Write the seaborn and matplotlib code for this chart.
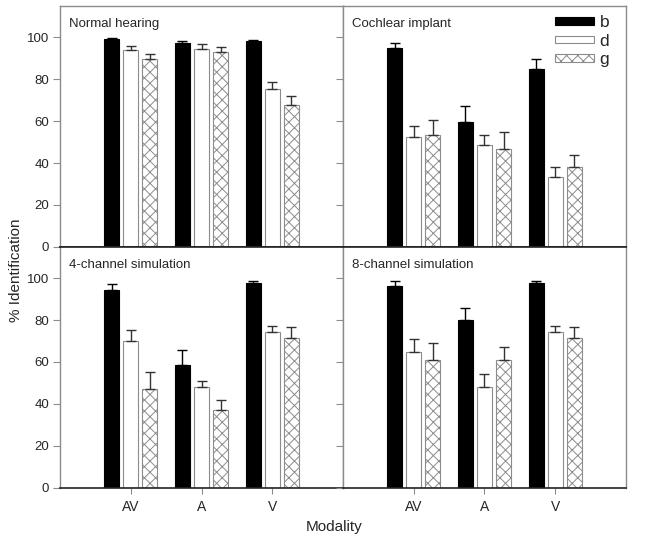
import pandas as pd
import matplotlib
matplotlib.use("Agg")
import matplotlib.pyplot as plt
import seaborn as sns

modalities = ['AV', 'A', 'V']
phonemes = ['b', 'd', 'g']
titles = ['Normal hearing', 'Cochlear implant', '4-channel simulation', '8-channel simulation']

# mean % identification per phoneme (AV, A, V)
nh_b = [99.1, 97.5, 98.2]
nh_d = [94.1, 94.5, 75.4]
nh_g = [89.6, 93.0, 67.5]
ci_b = [94.9, 59.5, 84.9]
ci_d = [52.3, 48.6, 33.1]
ci_g = [53.2, 46.9, 38.3]
ch4_b = [94.2, 58.6, 97.5]
ch4_d = [70.2, 48.1, 74.5]
ch4_g = [47.3, 36.9, 71.6]
ch8_b = [96.3, 80.0, 97.5]
ch8_d = [64.9, 48.0, 74.5]
ch8_g = [60.7, 60.7, 71.6]

# upper error bars
nh_b_err = [0.8, 0.8, 0.5]
nh_d_err = [1.7, 2.1, 3.1]
nh_g_err = [2.6, 2.5, 4.6]
ci_b_err = [2.3, 7.6, 4.9]
ci_d_err = [5.6, 4.9, 4.8]
ci_g_err = [7.3, 7.9, 5.4]
ch4_b_err = [3.0, 7.1, 1.1]
ch4_d_err = [5.0, 2.6, 2.5]
ch4_g_err = [8.1, 4.8, 5.2]
ch8_b_err = [2.3, 5.8, 1.1]
ch8_d_err = [6.2, 6.3, 2.5]
ch8_g_err = [8.3, 6.4, 5.2]

means = [[nh_b, nh_d, nh_g], [ci_b, ci_d, ci_g], [ch4_b, ch4_d, ch4_g], [ch8_b, ch8_d, ch8_g]]
errs = [[nh_b_err, nh_d_err, nh_g_err], [ci_b_err, ci_d_err, ci_g_err],
        [ch4_b_err, ch4_d_err, ch4_g_err], [ch8_b_err, ch8_d_err, ch8_g_err]]

sns.set_style('white')
plt.rcParams['font.family'] = ['Liberation Sans', 'DejaVu Sans']
plt.rcParams['hatch.linewidth'] = 0.7

gray = '#8c8c8c'
dark = '#222222'

fig, axes = plt.subplots(2, 2, figsize=(6.68, 5.4), dpi=100, sharex=True, sharey=True)
fig.subplots_adjust(left=0.09, right=0.937, top=0.989, bottom=0.097, wspace=0, hspace=0)

bar_sets = []
for i, ax in enumerate(axes.flat):
    rows = []
    for p, ph in enumerate(phonemes):
        for m, mod in enumerate(modalities):
            rows.append({'Modality': mod, 'Phoneme': ph, 'Identification': means[i][p][m]})
    df = pd.DataFrame(rows)
    sns.barplot(data=df, x='Modality', y='Identification', hue='Phoneme', order=modalities,
                hue_order=phonemes, palette=['black', 'white', 'white'], width=0.81, gap=0.22,
                errorbar=None, legend=False, ax=ax)

    conts = list(ax.containers)
    bar_sets.append(conts)
    for p, cont in enumerate(conts):
        xs = []
        for bar in cont.patches:
            if p == 0:
                bar.set_edgecolor('black')
            else:
                bar.set_edgecolor(gray)
            bar.set_linewidth(0.8)
            if p == 2:
                bar.set_hatch('xxx')
            xs.append(bar.get_x() + bar.get_width() / 2)
        ecol = 'black' if p == 0 else '#333333'
        ax.errorbar(xs, means[i][p], yerr=[[0] * 3, errs[i][p]], fmt='none',
                    ecolor=ecol, elinewidth=1, capsize=3.5, capthick=1)

    ax.set_xlim(-1, 3)
    ax.set_ylim(0, 115)
    ax.set_yticks([0, 20, 40, 60, 80, 100])
    ax.set_xlabel('')
    ax.set_ylabel('')
    ax.text(0.03, 0.925, titles[i], transform=ax.transAxes, fontsize=9.5, ha='left', va='center')

    for side in ['left', 'right', 'top']:
        ax.spines[side].set_color(gray)
        ax.spines[side].set_linewidth(1)
    ax.spines['bottom'].set_color(dark)
    ax.spines['bottom'].set_linewidth(1.2)
    if i >= 2:
        ax.spines['top'].set_color(dark)
        ax.spines['top'].set_linewidth(1.2)
        ax.tick_params(axis='x', bottom=True, length=4, color=gray, labelsize=10, pad=5)
    else:
        ax.tick_params(axis='x', bottom=False)
    ax.tick_params(axis='y', left=True, length=5, color=gray, labelsize=9.5, pad=3)

# legend in the cochlear implant panel
leg_ax = axes[0, 1]
handles = [c.patches[0] for c in bar_sets[1]]
leg_ax.legend(handles, phonemes, loc='upper right', bbox_to_anchor=(0.965, 0.99),
              frameon=False, fontsize=12.5, handlelength=2.25, handleheight=0.3,
              labelspacing=0.2, handletextpad=0.3, borderaxespad=0)

fig.supylabel('% Identification', x=0.014, fontsize=11)
fig.supxlabel('Modality', y=0.025, va='center', fontsize=11)

plt.savefig('out.png', dpi=100)
